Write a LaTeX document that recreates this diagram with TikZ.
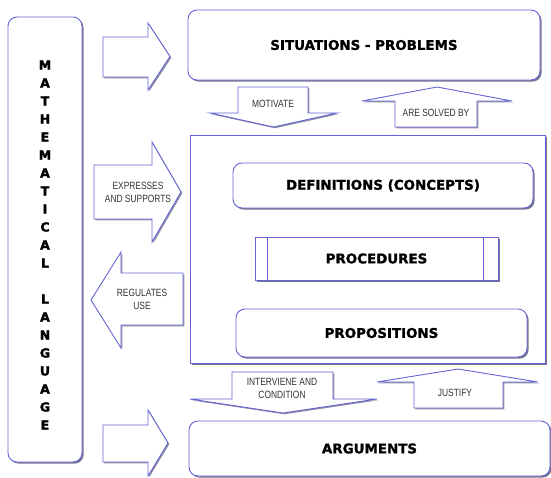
\documentclass[tikz,border=0pt]{standalone}
\usepackage{fontspec}
\setmainfont{DejaVu Sans}
\newfontfamily\heavyfont[FakeBold=1.4]{DejaVu Sans Bold}
\newfontfamily\blackfont[FakeBold=2.2]{DejaVu Sans Bold}
\newfontfamily\narrowfont[FakeStretch=0.8]{Liberation Sans}
\usetikzlibrary{shadows}
\definecolor{lineblue}{RGB}{100,100,215}
\definecolor{shadowgray}{RGB}{70,70,100}

\begin{document}
\begin{tikzpicture}[x=1pt,y=-1pt,
  box/.style={draw=lineblue, line width=0.9pt, fill=white, rounded corners=9pt, inner sep=0pt,
    drop shadow={shadow xshift=1.6pt, shadow yshift=-1.6pt, fill=shadowgray, opacity=0.75},
    font=\heavyfont\fontsize{13.4}{16}\selectfont},
  blockarrow/.style={draw=lineblue, line width=0.9pt, fill=white, line join=miter,
    drop shadow={shadow xshift=1.3pt, shadow yshift=-1.3pt, fill=shadowgray, opacity=0.6}},
  lbl/.style={font=\narrowfont\fontsize{10.5}{13}\selectfont, align=center, text=black!80},
  letter/.style={font=\blackfont\fontsize{12.5}{13}\selectfont}]
\useasboundingbox (0,0) rectangle (551,477);

% language column
\node[box, minimum width=74pt, minimum height=445pt] (lang) at (45,239.5) {};
\foreach \ch [count=\i from 0] in {M,A,T,H,E,M,A,T,I,C,A,L,{},L,A,N,G,U,A,G,E}
  \node[letter] (ch\i) at (45,65+18*\i) {\ch};

% boxes on the right
\node[box, minimum width=352pt, minimum height=70pt] (sit) at (364,45) {SITUATIONS - PROBLEMS};
\node[box, rounded corners=0pt, minimum width=355pt, minimum height=228pt] (core) at (367.5,249) {};
\node[box, minimum width=300pt, minimum height=45pt] (defn) at (383,185.5) {DEFINITIONS (CONCEPTS)};
\node[box, rounded corners=0pt, minimum width=243pt, minimum height=43pt] (proc) at (376.5,258.5) {PROCEDURES};
\draw[draw=lineblue, line width=0.9pt] ([xshift=13pt]proc.north west) -- ([xshift=13pt]proc.south west);
\draw[draw=lineblue, line width=0.9pt] ([xshift=-15pt]proc.north east) -- ([xshift=-15pt]proc.south east);
\node[box, minimum width=291pt, minimum height=48pt] (prop) at (381.5,333) {PROPOSITIONS};
\node[box, minimum width=361pt, minimum height=55pt] (arg) at (369.5,448.5) {ARGUMENTS};

% arrows from the column
\draw[blockarrow] (103,37)--(148,37)--(148,23)--(170,56.5)--(148,90)--(148,77)--(103,77)--cycle;
\draw[blockarrow] (94,165)--(152,165)--(152,142)--(181,192)--(152,242)--(152,219)--(94,219)--cycle;
\node[lbl] (expr) at (138,192) {EXPRESSES\\AND SUPPORTS};
\draw[blockarrow] (183,273)--(121,273)--(121,252)--(91,300)--(121,348)--(121,325)--(183,325)--cycle;
\node[lbl] (regul) at (142,299) {REGULATES\\USE};
\draw[blockarrow] (103,425)--(148,425)--(148,410)--(168,443)--(148,476)--(148,462)--(103,462)--cycle;

% arrows between the boxes
\draw[blockarrow] (238,87)--(308,87)--(308,113)--(337,113)--(273.5,127)--(210,113)--(238,113)--cycle;
\node[lbl] (motiv) at (273,104) {MOTIVATE};
\draw[blockarrow] (395,127)--(477,127)--(477,101)--(512,101)--(437,87)--(362,101)--(395,101)--cycle;
\node[lbl] (solved) at (436,113) {ARE SOLVED BY};
\draw[blockarrow] (232,372)--(333,372)--(333,399)--(377,399)--(283,413)--(190,399)--(232,399)--cycle;
\node[lbl] (interv) at (282,388.5) {INTERVIENE AND\\CONDITION};
\draw[blockarrow] (414,408)--(503,408)--(503,382)--(538,382)--(458,369)--(377,382)--(414,382)--cycle;
\node[lbl] (justif) at (455,393) {JUSTIFY};
\end{tikzpicture}
\end{document}
